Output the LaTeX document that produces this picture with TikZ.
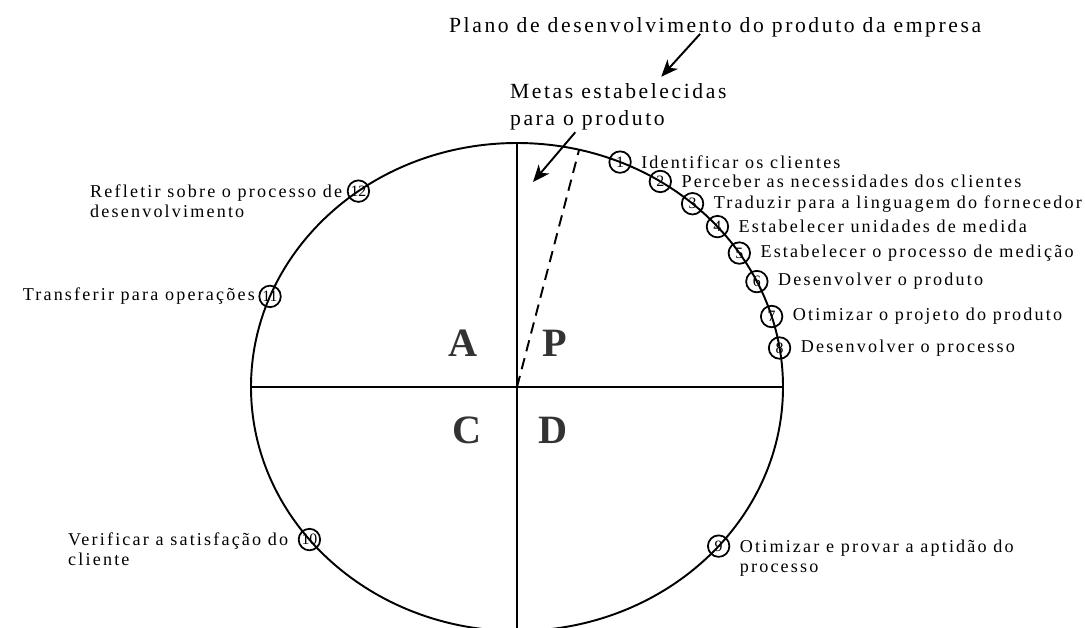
\documentclass[tikz,border=0pt]{standalone}
\usepackage{fontspec}
\setmainfont{Liberation Serif}
\newfontfamily\spaced[LetterSpace=12]{Liberation Serif}
\usetikzlibrary{arrows.meta,positioning}

\begin{document}
\begin{tikzpicture}[
  x=0.02cm, y=-0.02cm,
  node distance=1.5mm,
  num/.style={draw, circle, line width=1pt, minimum size=4.3mm, inner sep=0pt, font=\fontsize{9}{9}\selectfont},
  lbl/.style={inner sep=1pt, align=left, font=\fontsize{10.3}{11.4}\selectfont\spaced},
  big/.style={inner sep=1pt, align=left, font=\fontsize{12.3}{15.2}\selectfont\spaced},
  quad/.style={inner sep=0pt, text=black!80, font=\fontsize{22.9}{24}\selectfont\bfseries},
  arr/.style={-{Stealth[length=3.4mm, width=2.8mm, inset=1mm]}, line width=1.1pt}
]
\useasboundingbox (0,0) rectangle (1085,627);

\coordinate (o) at (517,387);
\path (o) ++(-90:266 and 244) coordinate (top)
      (o) ++(90:266 and 244) coordinate (bot)
      (o) ++(180:266 and 244) coordinate (west)
      (o) ++(0:266 and 244) coordinate (east)
      (o) ++(-76.5:266 and 244) coordinate (goal);

\draw[line width=1.1pt] (o) ellipse [x radius=266, y radius=244];
\draw[line width=0.9pt] (top) -- (bot);
\draw[line width=0.9pt] (west) -- (east);
\draw[line width=1.1pt, dash pattern=on 6.5pt off 4pt] (o) -- (goal);

\node[quad] (qa) at (463,343) {A};
\node[quad] (qp) at (555,343) {P};
\node[quad] (qc) at (467,430) {C};
\node[quad] (qd) at (553,430) {D};

\foreach \n/\a in {1/-67.2, 2/-57.4, 3/-48.7, 4/-41.1, 5/-33.3, 6/-25.6,
                   7/-16.8, 8/-9.2, 9/40.7, 10/141.3, 11/-158.2, 12/-126.6}
  \path (o) ++(\a:266 and 244) node[num] (s\n) {\n};

\node[lbl, right=of s1] (t1) {Identificar os clientes};
\node[lbl, right=of s2] (t2) {Perceber as necessidades dos clientes};
\node[lbl, right=of s3] (t3) {Traduzir para a linguagem do fornecedor};
\node[lbl, right=of s4] (t4) {Estabelecer unidades de medida};
\node[lbl, right=of s5] (t5) {Estabelecer o processo de medição};
\node[lbl, right=of s6] (t6) {Desenvolver o produto};
\node[lbl, right=of s7] (t7) {Otimizar o projeto do produto};
\node[lbl, right=of s8] (t8) {Desenvolver o processo};
\node[lbl, right=of s9, yshift=-2.4mm] (t9) {Otimizar e provar a aptidão do\\processo};
\node[lbl, left=1.5mm of s10, yshift=-2mm] (t10) {Verificar a satisfação do\\cliente};
\node[lbl, left=0.3mm of s11] (t11) {Transferir para operações};
\node[lbl, left=0.5mm of s12, yshift=-2mm] (t12) {Refletir sobre o processo de\\desenvolvimento};

\node[big, anchor=west] (plano) at (447,27) {Plano de desenvolvimento do produto da empresa};
\node[big, anchor=west] (metas) at (508,107) {Metas estabelecidas\\para o produto};
\coordinate (meta) at (533,182);

\draw[arr] ([xshift=-0.3cm, yshift=0.1cm]plano.south) -- ([xshift=0.86cm, yshift=0.1cm]metas.north);
\draw[arr] ([xshift=-0.86cm]metas.south) -- (meta);
\end{tikzpicture}
\end{document}
